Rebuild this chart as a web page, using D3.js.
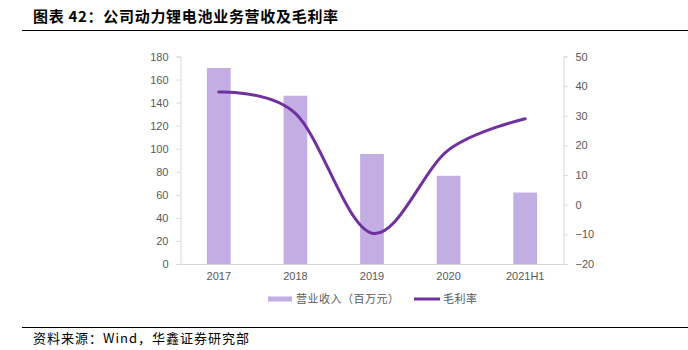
<!DOCTYPE html>
<html><head><meta charset="utf-8">
<script src="https://cdn.jsdelivr.net/npm/d3@7"></script>
<style>body{margin:0;background:#fff}svg{display:block}</style>
</head><body>
<svg id="c" width="688" height="350"></svg>
<script>
const categories = ["2017","2018","2019","2020","2021H1"];
const revenue = [170, 146, 95.5, 76.5, 62];
const margin = [38, 30.8, -9.6, 18.5, 29];
const leftTicks = [0,20,40,60,80,100,120,140,160,180];
const rightTicks = [-20,-10,0,10,20,30,40,50];
const title = "图表 42：公司动力锂电池业务营收及毛利率";
const source = "资料来源：Wind，华鑫证券研究部";
const legendLabels = ["营业收入（百万元）","毛利率"];

const svg = d3.select("#c");
const L = 180.5, R = 563.5, T = 56.5, B = 264;
const barColor = "#C3AEE4", lineColor = "#7030A0", txt = "#595959", axisC = "#D9D9D9";
const font = "'Liberation Sans', Arial, sans-serif";
const cjk = "'Noto Sans CJK SC', sans-serif";

// title and rules
svg.append("text").attr("x",33).attr("y",22).attr("font-family",cjk).attr("font-weight","bold")
  .attr("font-size",15).attr("letter-spacing",0.7).attr("fill","#000").text(title);
svg.append("line").attr("x1",22).attr("x2",688).attr("y1",30.5).attr("y2",30.5).attr("stroke","#000").attr("stroke-width",1.2);
svg.append("line").attr("x1",22).attr("x2",688).attr("y1",327.5).attr("y2",327.5).attr("stroke","#000").attr("stroke-width",1.2);
svg.append("text").attr("x",33).attr("y",343).attr("font-family",cjk).attr("font-size",13)
  .attr("letter-spacing",1).attr("fill","#000").text(source);

const x = d3.scaleBand().domain(categories).range([L,R]).paddingInner(0.69).paddingOuter(0.345);
const y = d3.scaleLinear().domain([0,180]).range([B,T]);
const y2 = d3.scaleLinear().domain([-20,50]).range([B,T]);

// bars
svg.append("g").selectAll("rect").data(categories).join("rect")
  .attr("x",d=>x(d)).attr("width",x.bandwidth())
  .attr("y",(d,i)=>y(revenue[i])).attr("height",(d,i)=>B-y(revenue[i]))
  .attr("fill",barColor);

// axes
const la = svg.append("g").attr("transform",`translate(${L},0)`)
  .call(d3.axisLeft(y).tickValues(leftTicks).tickSize(4).tickPadding(8));
const ra = svg.append("g").attr("transform",`translate(${R},0)`)
  .call(d3.axisRight(y2).tickValues(rightTicks).tickSize(4).tickPadding(8).tickFormat(d=>d<0?"\u2212"+(-d):d));
const xa = svg.append("g").attr("transform",`translate(0,${B})`)
  .call(d3.axisBottom(x).tickSize(0).tickPadding(8));
[la,ra,xa].forEach(g=>{
  g.selectAll("path").attr("stroke",axisC);
  g.selectAll("line").attr("stroke",axisC);
  g.selectAll("text").attr("fill",txt).attr("font-family",font).attr("font-size",11);
});
xa.select("path").attr("d",`M${L},0.5H${R}`);

// line
const line = d3.line().x((d,i)=>x(categories[i])+x.bandwidth()/2).y(d=>y2(d)).curve(d3.curveCardinal.tension(0));
svg.append("path").datum(margin).attr("d",line).attr("fill","none")
  .attr("stroke",lineColor).attr("stroke-width",3).attr("stroke-linecap","round");

// legend
const ly = 299;
svg.append("rect").attr("x",268).attr("y",ly-2.5).attr("width",24).attr("height",5).attr("fill",barColor);
svg.append("text").attr("x",296).attr("y",ly+4).attr("font-family",cjk).attr("font-size",11)
  .attr("letter-spacing",0.5).attr("fill",txt).text(legendLabels[0]);
svg.append("line").attr("x1",414).attr("x2",440).attr("y1",ly).attr("y2",ly).attr("stroke",lineColor).attr("stroke-width",3);
svg.append("text").attr("x",443).attr("y",ly+4).attr("font-family",cjk).attr("font-size",11)
  .attr("letter-spacing",0.5).attr("fill",txt).text(legendLabels[1]);
</script>
</body></html>
